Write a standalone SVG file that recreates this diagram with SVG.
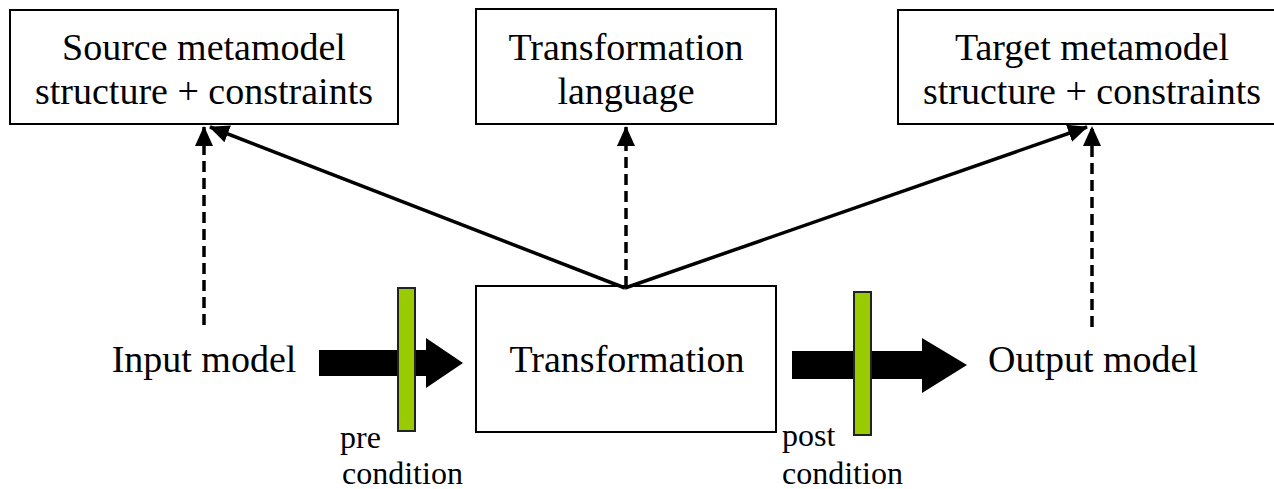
<svg xmlns="http://www.w3.org/2000/svg" width="1274" height="489" viewBox="0 0 1274 489">
<style>
.box{fill:#fff;stroke:#000;stroke-width:2}
.t{font-family:"Liberation Serif","Times New Roman",serif;font-size:38px;fill:#000;text-anchor:middle}
.s{font-family:"Liberation Serif","Times New Roman",serif;font-size:32px;fill:#000}
.solid{stroke:#000;stroke-width:3.5;fill:none}
.dash{stroke:#000;stroke-width:3.5;fill:none;stroke-dasharray:11 6}
.bar{fill:#99CC00;stroke:#222;stroke-width:2}
.block{fill:#000}
</style>
<defs>
<marker id="ah" markerUnits="userSpaceOnUse" markerWidth="20" markerHeight="18" viewBox="0 0 20 18" refX="19" refY="9" orient="auto">
<path d="M0,0 L20,9 L0,18 Z" fill="#000"/>
</marker>
</defs>
<g id="source">
<rect class="box" x="10" y="10" width="388" height="114"/>
<text class="t" x="204" y="60">Source metamodel</text>
<text class="t" x="204" y="104">structure + constraints</text>
</g>
<g id="language">
<rect class="box" x="476" y="9" width="300" height="115"/>
<text class="t" x="626" y="60">Transformation</text>
<text class="t" x="626" y="104">language</text>
</g>
<g id="target">
<rect class="box" x="898" y="10" width="390" height="114"/>
<text class="t" x="1092" y="60">Target metamodel</text>
<text class="t" x="1092" y="104">structure + constraints</text>
</g>
<g id="transformation">
<rect class="box" x="476" y="286" width="300" height="146"/>
<text class="t" x="627" y="372">Transformation</text>
</g>
<g id="input">
<text class="t" x="204" y="372">Input model</text>
</g>
<g id="output">
<text class="t" x="1093" y="372">Output model</text>
</g>
<g id="connectors">
<line class="dash" x1="204" y1="325" x2="204" y2="127" marker-end="url(#ah)"/>
<line class="dash" x1="626" y1="287" x2="626" y2="127" marker-end="url(#ah)"/>
<line class="dash" x1="1092" y1="327" x2="1092" y2="127" marker-end="url(#ah)"/>
<line class="solid" x1="625" y1="288" x2="210" y2="127" marker-end="url(#ah)"/>
<line class="solid" x1="625" y1="288" x2="1087" y2="127" marker-end="url(#ah)"/>
<polygon class="block" points="319,350 426,350 426,338 463,363 426,388 426,376 319,376"/>
<polygon class="block" points="792,351 922,351 922,338 967,365 922,393 922,379 792,379"/>
</g>
<g id="precondition">
<rect class="bar" x="398" y="288" width="17" height="143"/>
<text class="s" x="340" y="448">pre</text>
<text class="s" x="342" y="484">condition</text>
</g>
<g id="postcondition">
<rect class="bar" x="854" y="292" width="17" height="143"/>
<text class="s" x="782" y="446">post</text>
<text class="s" x="782" y="484">condition</text>
</g>
</svg>
